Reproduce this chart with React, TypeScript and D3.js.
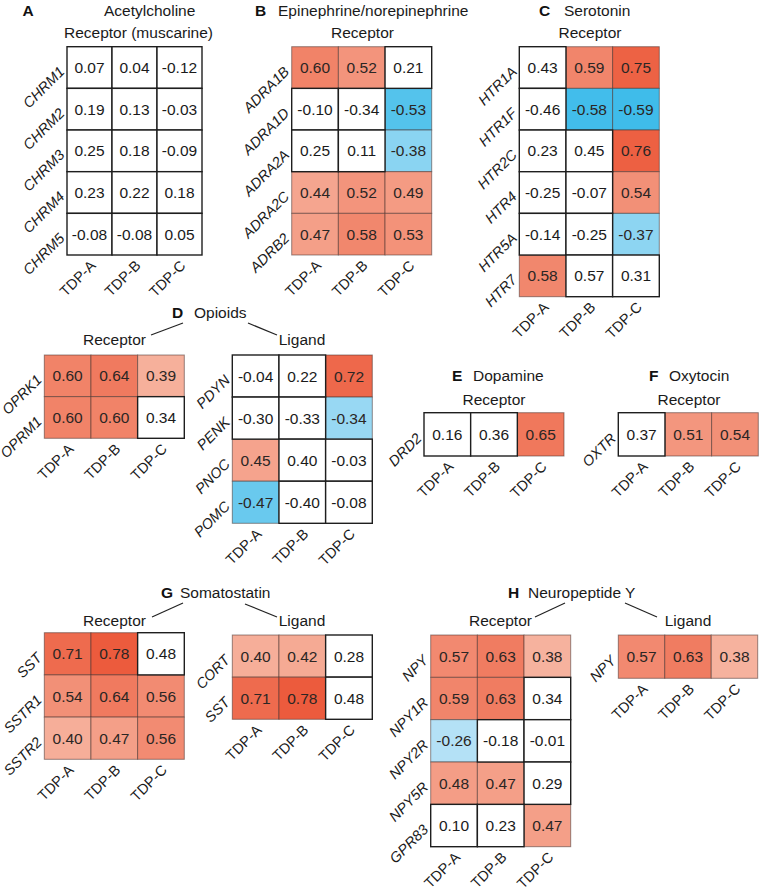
import React from "react";
import * as d3 from "d3";

const COLS = ["TDP-A", "TDP-B", "TDP-C"];

// A. Acetylcholine receptor (muscarine)
const achRows = ["CHRM1", "CHRM2", "CHRM3", "CHRM4", "CHRM5"];
const achValues = [
  [0.07, 0.04, -0.12],
  [0.19, 0.13, -0.03],
  [0.25, 0.18, -0.09],
  [0.23, 0.22, 0.18],
  [-0.08, -0.08, 0.05],
];
const achSig = [
  [0, 0, 0],
  [0, 0, 0],
  [0, 0, 0],
  [0, 0, 0],
  [0, 0, 0],
];

// B. Epinephrine/norepinephrine receptor
const adrRows = ["ADRA1B", "ADRA1D", "ADRA2A", "ADRA2C", "ADRB2"];
const adrValues = [
  [0.6, 0.52, 0.21],
  [-0.1, -0.34, -0.53],
  [0.25, 0.11, -0.38],
  [0.44, 0.52, 0.49],
  [0.47, 0.58, 0.53],
];
const adrSig = [
  [1, 1, 0],
  [0, 0, 1],
  [0, 0, 1],
  [1, 1, 1],
  [1, 1, 1],
];

// C. Serotonin receptor
const htrRows = ["HTR1A", "HTR1F", "HTR2C", "HTR4", "HTR5A", "HTR7"];
const htrValues = [
  [0.43, 0.59, 0.75],
  [-0.46, -0.58, -0.59],
  [0.23, 0.45, 0.76],
  [-0.25, -0.07, 0.54],
  [-0.14, -0.25, -0.37],
  [0.58, 0.57, 0.31],
];
const htrSig = [
  [0, 1, 1],
  [0, 1, 1],
  [0, 0, 1],
  [0, 0, 1],
  [0, 0, 1],
  [1, 0, 0],
];

// D. Opioids
const opRecRows = ["OPRK1", "OPRM1"];
const opRecValues = [
  [0.6, 0.64, 0.39],
  [0.6, 0.6, 0.34],
];
const opRecSig = [
  [1, 1, 1],
  [1, 1, 0],
];
const opLigRows = ["PDYN", "PENK", "PNOC", "POMC"];
const opLigValues = [
  [-0.04, 0.22, 0.72],
  [-0.3, -0.33, -0.34],
  [0.45, 0.4, -0.03],
  [-0.47, -0.4, -0.08],
];
const opLigSig = [
  [0, 0, 1],
  [0, 0, 1],
  [1, 0, 0],
  [1, 0, 0],
];

// E. Dopamine receptor
const drdRows = ["DRD2"];
const drdValues = [[0.16, 0.36, 0.65]];
const drdSig = [[0, 0, 1]];

// F. Oxytocin receptor
const oxtRows = ["OXTR"];
const oxtValues = [[0.37, 0.51, 0.54]];
const oxtSig = [[0, 1, 1]];

// G. Somatostatin
const sstRecRows = ["SST", "SSTR1", "SSTR2"];
const sstRecValues = [
  [0.71, 0.78, 0.48],
  [0.54, 0.64, 0.56],
  [0.4, 0.47, 0.56],
];
const sstRecSig = [
  [1, 1, 0],
  [1, 1, 1],
  [1, 1, 1],
];
const sstLigRows = ["CORT", "SST"];
const sstLigValues = [
  [0.4, 0.42, 0.28],
  [0.71, 0.78, 0.48],
];
const sstLigSig = [
  [1, 1, 0],
  [1, 1, 0],
];

// H. Neuropeptide Y
const npyRecRows = ["NPY", "NPY1R", "NPY2R", "NPY5R", "GPR83"];
const npyRecValues = [
  [0.57, 0.63, 0.38],
  [0.59, 0.63, 0.34],
  [-0.26, -0.18, -0.01],
  [0.48, 0.47, 0.29],
  [0.1, 0.23, 0.47],
];
const npyRecSig = [
  [1, 1, 1],
  [1, 1, 0],
  [1, 0, 0],
  [1, 1, 0],
  [0, 0, 1],
];
const npyLigRows = ["NPY"];
const npyLigValues = [[0.57, 0.63, 0.38]];
const npyLigSig = [[1, 1, 1]];

// ---------- layout ----------
const FONT = "'Liberation Sans', Arial, Helvetica, sans-serif";
const FS = 15.5;
const LFS = 14.5;

const panels = [
  { key: "A", rows: achRows, values: achValues, sig: achSig, x0: 67, x1: 202, y0: 46.7, y1: 255 },
  { key: "B", rows: adrRows, values: adrValues, sig: adrSig, x0: 291.7, x1: 431.7, y0: 46.7, y1: 255 },
  { key: "C", rows: htrRows, values: htrValues, sig: htrSig, x0: 519.3, x1: 659.3, y0: 46.7, y1: 296.7 },
  { key: "Dr", rows: opRecRows, values: opRecValues, sig: opRecSig, x0: 44.3, x1: 184.3, y0: 355, y1: 438.3 },
  { key: "Dl", rows: opLigRows, values: opLigValues, sig: opLigSig, x0: 232.3, x1: 372.3, y0: 355, y1: 523.3 },
  { key: "E", rows: drdRows, values: drdValues, sig: drdSig, x0: 424, x1: 564, y0: 412.7, y1: 456 },
  { key: "F", rows: oxtRows, values: oxtValues, sig: oxtSig, x0: 618.3, x1: 758.3, y0: 412.7, y1: 456 },
  { key: "Gr", rows: sstRecRows, values: sstRecValues, sig: sstRecSig, x0: 44.3, x1: 184.3, y0: 632.7, y1: 759.3 },
  { key: "Gl", rows: sstLigRows, values: sstLigValues, sig: sstLigSig, x0: 232.3, x1: 372.3, y0: 635, y1: 719.3 },
  { key: "Hr", rows: npyRecRows, values: npyRecValues, sig: npyRecSig, x0: 430.7, x1: 570.7, y0: 635, y1: 846.7 },
  { key: "Hl", rows: npyLigRows, values: npyLigValues, sig: npyLigSig, x0: 618.3, x1: 757.7, y0: 635, y1: 678.3 },
];

const headings = [
  { letter: "A", lx: 22.5, title: "Acetylcholine", tx: 104, y: 15.5 },
  { letter: "B", lx: 255, title: "Epinephrine/norepinephrine", tx: 278, y: 15.5 },
  { letter: "C", lx: 539, title: "Serotonin", tx: 564, y: 15.5 },
  { letter: "D", lx: 172, title: "Opioids", tx: 194, y: 318 },
  { letter: "E", lx: 452, title: "Dopamine", tx: 473, y: 381 },
  { letter: "F", lx: 649, title: "Oxytocin", tx: 669, y: 381 },
  { letter: "G", lx: 161, title: "Somatostatin", tx: 180, y: 598 },
  { letter: "H", lx: 508, title: "Neuropeptide Y", tx: 528, y: 598 },
];

const subtitles = [
  { text: "Receptor (muscarine)", cx: 138.5, y: 38 },
  { text: "Receptor", cx: 362.5, y: 38 },
  { text: "Receptor", cx: 590, y: 38 },
  { text: "Receptor", cx: 114.5, y: 345 },
  { text: "Ligand", cx: 302, y: 345 },
  { text: "Receptor", cx: 494, y: 405 },
  { text: "Receptor", cx: 689, y: 405 },
  { text: "Receptor", cx: 114.5, y: 626 },
  { text: "Ligand", cx: 302, y: 626 },
  { text: "Receptor", cx: 500.5, y: 626 },
  { text: "Ligand", cx: 688, y: 626 },
];

const connectors = [
  [183, 323, 151, 335],
  [248, 323, 277, 335],
  [183, 603, 152, 617],
  [245, 604, 277, 617],
  [565, 603, 535, 617],
  [625, 603, 657, 617],
];

const redScale = d3
  .scaleLinear<string>()
  .domain([0.35, 0.8])
  .range(["#F7B9A5", "#EC5738"])
  .clamp(true);
const blueScale = d3
  .scaleLinear<string>()
  .domain([-0.6, -0.25])
  .range(["#3BBBEA", "#B8E2F6"])
  .clamp(true);

function fillFor(v: number, s: number) {
  if (!s) return "#ffffff";
  return v >= 0 ? redScale(v) : blueScale(v);
}

const fmt2 = d3.format(".2f");
const fmt = (v: number) => fmt2(v).replace("\u2212", "-");

function Heatmap({ p }: { p: (typeof panels)[number] }) {
  const x = d3.scaleBand<string>().domain(COLS).range([p.x0, p.x1]).padding(0);
  const y = d3.scaleBand<string>().domain(p.rows).range([p.y0, p.y1]).padding(0);
  const cells = p.rows.flatMap((r, i) =>
    COLS.map((c, j) => ({ r, c, v: p.values[i][j], s: p.sig[i][j] }))
  );
  const colored = cells.filter((d) => d.s);
  const plain = cells.filter((d) => !d.s);
  return (
    <g>
      {colored.map((d) => (
        <rect
          key={"c" + d.r + d.c}
          x={x(d.c)}
          y={y(d.r)}
          width={x.bandwidth()}
          height={y.bandwidth()}
          fill={fillFor(d.v, d.s)}
          stroke="rgba(70,50,45,0.55)"
          strokeWidth={1}
        />
      ))}
      {plain.map((d) => (
        <rect
          key={"p" + d.r + d.c}
          x={x(d.c)}
          y={y(d.r)}
          width={x.bandwidth()}
          height={y.bandwidth()}
          fill="#ffffff"
          stroke="#1e1e1e"
          strokeWidth={1.4}
        />
      ))}
      {cells.map((d) => (
        <text
          key={"t" + d.r + d.c}
          x={(x(d.c) as number) + x.bandwidth() / 2}
          y={(y(d.r) as number) + y.bandwidth() / 2}
          dy="0.36em"
          textAnchor="middle"
          fontSize={FS}
          fill={d.s ? "#2b2624" : "#1a1a1a"}
        >
          {fmt(d.v)}
        </text>
      ))}
      {p.rows.map((r) => {
        const ax = p.x0 - 1.5;
        const ay = (y(r) as number) + y.bandwidth() / 2 + 5;
        return (
          <text
            key={"r" + r}
            transform={`translate(${ax},${ay}) rotate(-45)`}
            textAnchor="end"
            fontSize={LFS}
            fontStyle="italic"
            fill="#1a1a1a"
          >
            {r}
          </text>
        );
      })}
      {COLS.map((c) => {
        const ax = (x(c) as number) + x.bandwidth() / 2 + 7;
        const ay = p.y1 + 11.5;
        return (
          <text
            key={"c" + c}
            transform={`translate(${ax},${ay}) rotate(-45)`}
            textAnchor="end"
            fontSize={LFS}
            fill="#1a1a1a"
          >
            {c}
          </text>
        );
      })}
    </g>
  );
}

export default function App() {
  return (
    <svg
      width={760}
      height={891}
      viewBox="0 0 760 891"
      style={{ position: "absolute", left: 0, top: 0, background: "#fff" }}
      fontFamily={FONT}
    >
      <rect x={0} y={0} width={760} height={891} fill="#fff" />
      {headings.map((h) => (
        <g key={h.letter}>
          <text x={h.lx} y={h.y} fontSize={FS} fontWeight="bold" fill="#111">
            {h.letter}
          </text>
          <text x={h.tx} y={h.y} fontSize={FS} fill="#1a1a1a">
            {h.title}
          </text>
        </g>
      ))}
      {subtitles.map((s, i) => (
        <text key={"s" + i} x={s.cx} y={s.y} fontSize={FS} textAnchor="middle" fill="#1a1a1a">
          {s.text}
        </text>
      ))}
      {connectors.map((l, i) => (
        <line key={"l" + i} x1={l[0]} y1={l[1]} x2={l[2]} y2={l[3]} stroke="#222" strokeWidth={1.2} />
      ))}
      {panels.map((p) => (
        <Heatmap key={p.key} p={p} />
      ))}
    </svg>
  );
}
